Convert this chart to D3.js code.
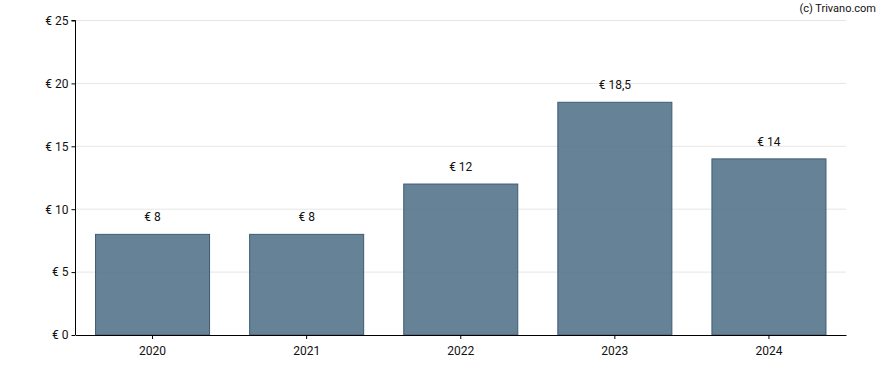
<!DOCTYPE html>
<html>
<head>
<meta charset="utf-8">
<script src="https://cdn.jsdelivr.net/npm/d3@7"></script>
<style>
    body { margin: 0; background: #fff; }
    svg { display: block; font-family: Roboto, "Liberation Sans", sans-serif; }
</style>
</head>
<body>
<div id="chart"></div>
<script>
// Dividend per year
const years = ['2020', '2021', '2022', '2023', '2024'];
const values = [8, 8, 12, 18.5, 14];
const yTicks = [0, 5, 10, 15, 20, 25];

const width = 888;
const height = 370;
const margin = { top: 20.5, right: 42, bottom: 35, left: 75.5 };

const fmt = v => '€ ' + String(v).replace('.', ',');

const svg = d3.select('#chart')
    .append('svg')
    .attr('width', width)
    .attr('height', height);

const x = d3.scaleBand()
    .domain(years)
    .range([margin.left, width - margin.right])
    .paddingInner(0.26)
    .paddingOuter(0.13);

const y = d3.scaleLinear()
    .domain([0, 25])
    .range([height - margin.bottom, margin.top]);

// Gridlines
svg.append('g')
    .selectAll('line')
    .data(yTicks.slice(1))
    .join('line')
    .attr('x1', margin.left)
    .attr('x2', width - margin.right)
    .attr('y1', d => y(d))
    .attr('y2', d => y(d))
    .attr('stroke', '#e6e6e6')
    .attr('stroke-width', 1);

// Bars
svg.append('g')
    .selectAll('rect')
    .data(values)
    .join('rect')
    .attr('x', (d, i) => x(years[i]))
    .attr('y', d => y(d))
    .attr('width', x.bandwidth())
    .attr('height', d => y(0) - y(d))
    .attr('fill', '#4f6f86')
    .attr('fill-opacity', 0.87)
    .attr('stroke', '#3f5c73')
    .attr('stroke-width', 1);

// Value labels
svg.append('g')
    .selectAll('text')
    .data(values)
    .join('text')
    .attr('x', (d, i) => x(years[i]) + x.bandwidth() / 2)
    .attr('y', d => y(d) - 13)
    .attr('text-anchor', 'middle')
    .style('font-size', '12px')
    .style('fill', '#111')
    .text(d => fmt(d));

// Y axis
const yAxis = svg.append('g')
    .attr('transform', `translate(${margin.left},0)`)
    .call(d3.axisLeft(y).tickValues(yTicks).tickSize(4).tickPadding(3).tickFormat(fmt));

// X axis
const xAxis = svg.append('g')
    .attr('transform', `translate(0,${height - margin.bottom})`)
    .call(d3.axisBottom(x).tickSize(4).tickPadding(7).tickSizeOuter(0));

[yAxis, xAxis].forEach(a => {
    a.select('.domain').attr('stroke', '#000');
    a.selectAll('.tick line').attr('stroke', '#000');
    a.selectAll('.tick text')
        .style('font-size', '12px')
        .style('font-family', 'Roboto, "Liberation Sans", sans-serif')
        .style('fill', '#111');
});
yAxis.select('.domain').attr('d', `M-4,${y(25)}H0V${y(0)}`);

// Credit
svg.append('text')
    .attr('x', width - 12)
    .attr('y', 12)
    .attr('text-anchor', 'end')
    .style('font-size', '11px')
    .style('fill', '#111')
    .text('(c) Trivano.com');
</script>
</body>
</html>
